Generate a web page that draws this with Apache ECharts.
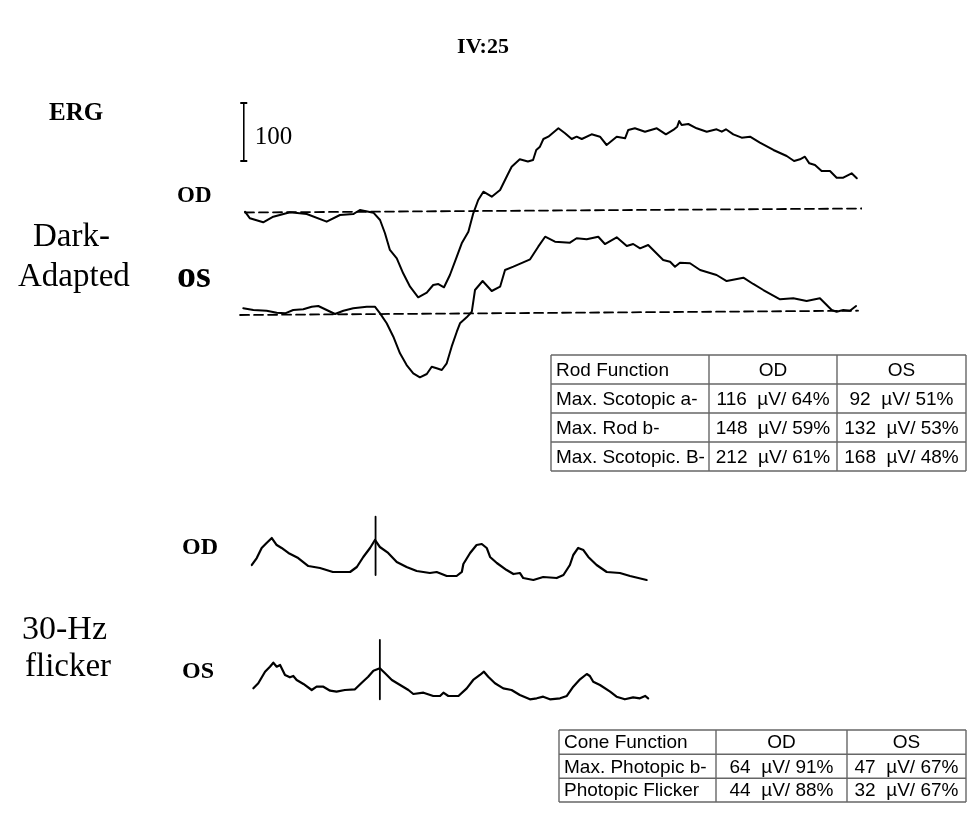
<!DOCTYPE html>
<html><head><meta charset="utf-8">
<script src="https://cdn.jsdelivr.net/npm/echarts@6/dist/echarts.min.js"></script>
<style>html,body{margin:0;padding:0;background:#fff}#c{width:968px;height:817px}</style>
</head><body><div id="c"></div>
<script>
// ---- Dark-adapted ERG traces: [time ms, amplitude µV] ----
const darkOD = [[0,0],[2,-11.4],[7.4,-18.3],[11.5,-8.6],[18.3,-1],[25.1,-4],[33.2,-17.2],[38.6,-5.7],[44,-4],[46.7,2.9],[52.2,-1.7],[54.9,-14.3],[56.9,-37.2],[58.9,-66],[61.7,-80.3],[64.3,-106.2],[67.1,-129.3],[70.4,-147.6],[73.9,-139.7],[76.5,-126.4],[78.6,-124.7],[80.9,-130.3],[83.3,-109.1],[86.1,-77.6],[88.1,-54.5],[90.8,-34.5],[92.8,-2.8],[94.8,20.2],[96.9,34.5],[100.3,25.9],[103.7,37.4],[106.7,63.3],[108.4,77.6],[111.7,90.3],[115,86.6],[117.1,89.1],[118.4,106.4],[119.9,112.1],[121.3,125.3],[123.3,129.3],[127.4,143.8],[130.1,135.2],[132.8,125.3],[134.8,129.3],[136.9,125.3],[140.9,133.4],[144.3,129.3],[147,115],[151.1,129.3],[154.5,126.6],[155.8,140.9],[158.5,143.8],[162.6,137.9],[167.4,143.8],[171.1,133.4],[174.1,140.9],[175.7,146.6],[176.5,156.4],[177.5,149.5],[180.2,151.2],[183.6,143.8],[187.7,137.9],[191.7,142.1],[193.8,137.9],[195.5,142.1],[198.5,133.4],[201.9,127.6],[205.3,129.3],[209.3,119],[214.8,106.4],[220.2,96],[223.2,87.4],[225.6,90.3],[227.6,94.8],[229.4,83.4],[231.7,80.5],[234.4,70.2],[237.8,70.2],[240.5,58.6],[243.2,58.6],[246.6,66.2],[248.7,57.6]];
const darkOS = [[-0.7,9],[3.4,6],[8.8,4.8],[12.9,1.4],[16.3,0.3],[19.6,6],[23.7,7.2],[27.1,11.7],[29.8,12.9],[33.2,6],[36.6,-0.9],[40,4.8],[44,9],[49.5,11.7],[52.8,11.7],[54.9,0.3],[57.6,-16.9],[60.3,-40],[63,-68.6],[65.7,-88.8],[68.4,-103.1],[71.1,-110],[73.9,-104.3],[75.9,-91.7],[77.9,-94.5],[80,-97.4],[82,-85.9],[84,-57.2],[86.1,-31.4],[87.4,-16.9],[90.1,-6.6],[92.2,3.1],[93.5,40.5],[96.6,56],[100.3,38.8],[103.7,46.2],[105.7,75],[109.1,80.7],[115.9,93.4],[119.2,115.2],[122,132.4],[126,123.8],[132.1,122.1],[134.8,129.7],[138.9,127.9],[143.6,132.4],[146.3,119.8],[151.1,131.4],[155.2,116.4],[157.8,119.8],[160.6,112.4],[163.9,118.1],[170,92.2],[172.8,89.3],[174.8,80.7],[176.8,87.6],[180.9,86.6],[185,75],[191.7,66.4],[195.8,56],[202.6,61.7],[206.6,50.9],[210.7,40.5],[217.5,24.5],[222.9,26.2],[228.3,21.6],[233.7,26.2],[238.5,6],[240.5,3.1],[243.2,6],[245.9,4.8],[248.4,12.9]];
const baseOD = [[0,-1.4],[250.8,5.5]];
const baseOS = [[-2,-2.6],[249.2,4.8]];
const scaleBarValue = 100;   // µV
const scaleBarBottom = 87.4; // µV (OD axis)
const scaleBarTime = -0.5;   // ms
// ---- 30-Hz flicker traces ----
const flickOD = [[0.6,25.9],[2.2,37.9],[3.8,55.2],[5.4,63.8],[7.1,72.4],[8.7,60.3],[10.3,55.2],[12.5,46.6],[15.7,37.9],[19,24.1],[22.8,20.7],[27,13.8],[32.6,13.8],[34.8,22.4],[36.9,39.7],[39.1,55.2],[40.7,69],[42.3,56.9],[45,46.6],[47.8,31],[51,22.4],[54.3,15.5],[58.6,12.1],[60.8,13.8],[64.1,6.9],[67.3,6.9],[69,13.8],[69.5,27.6],[71.7,46.6],[73.8,60.3],[75.5,62.1],[77.1,55.2],[78.2,39.7],[80.4,29.3],[83.6,17.2],[85.8,10.3],[87.9,12.1],[89,3.4],[92.3,0],[95.5,5.2],[99.9,3.4],[102.1,8.6],[104.2,25.9],[105.3,43.1],[106.9,55.2],[108.6,51.7],[110.2,39.7],[112.9,25.9],[116.2,13.8],[120.5,12.1],[123.8,6.9],[129.2,0]];
const flickOS = [[1.1,18.4],[2.7,27.1],[4.9,47.1],[6.5,55.7],[7.6,62.6],[8.7,55.7],[9.8,58.6],[11.4,41.4],[13,37.4],[14.1,39.7],[15.2,32.8],[17.4,25.9],[20.1,15.5],[21.7,21.2],[23.9,21.2],[26.1,14.3],[28.2,12.6],[30.9,15.5],[34.2,16.7],[36.4,28.1],[38.5,38.4],[40.2,48.8],[42.3,52.9],[44,44.3],[46.2,32.8],[48.9,24.1],[51.6,15.5],[53.2,8.6],[56.5,10.9],[59.7,5.2],[61.9,5.2],[63,10.9],[64.6,5.2],[67.9,5.2],[70.6,18.4],[72.7,32.8],[74.9,41.4],[76.2,47.1],[77.6,38.4],[79.8,27.1],[82.5,18.4],[85.2,15.5],[87.9,6.9],[91.2,-0.5],[93.4,1.2],[95.5,4],[97.7,-0.5],[101,1.2],[103.2,5.2],[105.3,21.2],[107.5,34],[109.7,43.1],[110.7,39.7],[111.8,29.8],[114,24.1],[117.3,12.6],[119.4,4],[122.1,-0.5],[124.8,2.9],[127,1.2],[128.7,5.2],[129.7,1.2]];
const markerOD = [[40.9,8.6],[40.9,109.1]];
const markerOS = [[42.3,-0.5],[42.3,101.7]];
// ---- tables ----
const rodHeader = ['Rod Function','OD','OS'];
const rodRows = [['Max. Scotopic a-','116  \u00b5V/ 64%','92  \u00b5V/ 51%'],['Max. Rod b-','148  \u00b5V/ 59%','132  \u00b5V/ 53%'],['Max. Scotopic. B-','212  \u00b5V/ 61%','168  \u00b5V/ 48%']];
const coneHeader = ['Cone Function','OD','OS'];
const coneRows = [['Max. Photopic b-','64  \u00b5V/ 91%','47  \u00b5V/ 67%'],['Photopic Flicker','44  \u00b5V/ 88%','32  \u00b5V/ 67%']];

const SERIF = '"Liberation Serif","Times New Roman",serif';
const SANS = '"Liberation Sans",Arial,sans-serif';

function axisX(i,min,max){return {gridIndex:i,type:'value',min:min,max:max,show:false};}
function axisY(i,min,max){return {gridIndex:i,type:'value',min:min,max:max,show:false};}
function trace(i,data,w,dash){return {type:'line',xAxisIndex:i,yAxisIndex:i,data:data,symbol:'none',clip:false,silent:true,animation:false,
  lineStyle:{color:'#000',width:w||2,type:dash||'solid',cap:'round',join:'round'}};}

function table(x0,x1,cols,rowYs,header,rows,fs){
  const els=[];const lc='#666';
  const all=[header].concat(rows);
  const top=rowYs[0],bot=rowYs[rowYs.length-1];
  rowYs.forEach(y=>els.push({type:'line',shape:{x1:x0,y1:y,x2:x1,y2:y},style:{stroke:lc,lineWidth:1.4}}));
  [x0].concat(cols).concat([x1]).forEach(x=>els.push({type:'line',shape:{x1:x,y1:top,x2:x,y2:bot},style:{stroke:lc,lineWidth:1.4}}));
  const cx=[x0+5,(cols[0]+cols[1])/2,(cols[1]+x1)/2];
  all.forEach((r,ri)=>{const ym=(rowYs[ri]+rowYs[ri+1])/2+1;
    r.forEach((t,ci)=>els.push({type:'text',style:{text:t,x:cx[ci],y:ym,font:fs+'px '+SANS,fill:'#000',textAlign:ci===0?'left':'center',textVerticalAlign:'middle'}}));});
  return els;
}
function txt(t,x,y,font,align){return {type:'text',style:{text:t,x:x,y:y,font:font,fill:'#000',textAlign:align||'left',textVerticalAlign:'middle'}};}

const chart = echarts.init(document.getElementById('c'),null,{renderer:'canvas'});
const graphics = [
  txt('IV:25',483,47.7,'bold 22px '+SERIF,'center'),
  txt('ERG',49,113.5,'bold 25px '+SERIF),
  txt('OD',177,195.7,'bold 23px '+SERIF),
  txt('Dark-',33,237.4,'33px '+SERIF),
  txt('Adapted',18,277.4,'33px '+SERIF),
  txt('os',177,277.5,'bold 38px '+SERIF),
  txt('OD',182,548,'bold 24px '+SERIF),
  txt('30-Hz',22,630,'34px '+SERIF),
  txt('flicker',25,667,'33px '+SERIF),
  txt('OS',182,672,'bold 24px '+SERIF)
].concat(table(551,966,[709,837],[355,384,413,442,471],rodHeader,rodRows,19))
 .concat(table(559,966,[716,847],[730,754.3,778.3,802],coneHeader,coneRows,19));

const scaleBar = {type:'line',xAxisIndex:0,yAxisIndex:0,clip:false,silent:true,animation:false,
  data:[{value:[scaleBarTime,scaleBarBottom],symbol:'rect',symbolSize:[7,2]},
        {value:[scaleBarTime,scaleBarBottom+scaleBarValue],symbol:'rect',symbolSize:[7,2]}],
  showSymbol:true,showAllSymbol:true,itemStyle:{color:'#000'},lineStyle:{color:'#000',width:1.6}};
const scaleLabel = {type:'scatter',xAxisIndex:0,yAxisIndex:0,clip:false,silent:true,animation:false,
  data:[[scaleBarTime,scaleBarBottom+scaleBarValue*0.4]],symbolSize:0.1,itemStyle:{color:'#000',opacity:1},
  label:{show:true,formatter:String(scaleBarValue),position:'right',distance:11,color:'#000',opacity:1,fontSize:25,fontFamily:SERIF,textBorderWidth:0}};

chart.setOption({
  animation:false,
  backgroundColor:'#fff',
  grid:[
    {left:232.7,top:95.7,width:627.3,height:232},
    {left:232.7,top:197.5,width:627.3,height:232},
    {left:250,top:493,width:399.1,height:116},
    {left:250,top:612,width:399.1,height:116}
  ],
  xAxis:[axisX(0,-5,250),axisX(1,-5,250),axisX(2,0,130),axisX(3,0,130)],
  yAxis:[axisY(0,-200,200),axisY(1,-200,200),axisY(2,-50,150),axisY(3,-50,150)],
  series:[
    trace(0,baseOD,1.8,[9,5]),
    trace(1,baseOS,1.8,[9,5]),
    trace(0,darkOD,2),
    trace(1,darkOS,2),
    scaleBar,
    scaleLabel,
    trace(2,flickOD,2.2),
    trace(3,flickOS,2.2),
    trace(2,markerOD,1.8),
    trace(3,markerOS,1.8)
  ],
  graphic:graphics
});
</script></body></html>
